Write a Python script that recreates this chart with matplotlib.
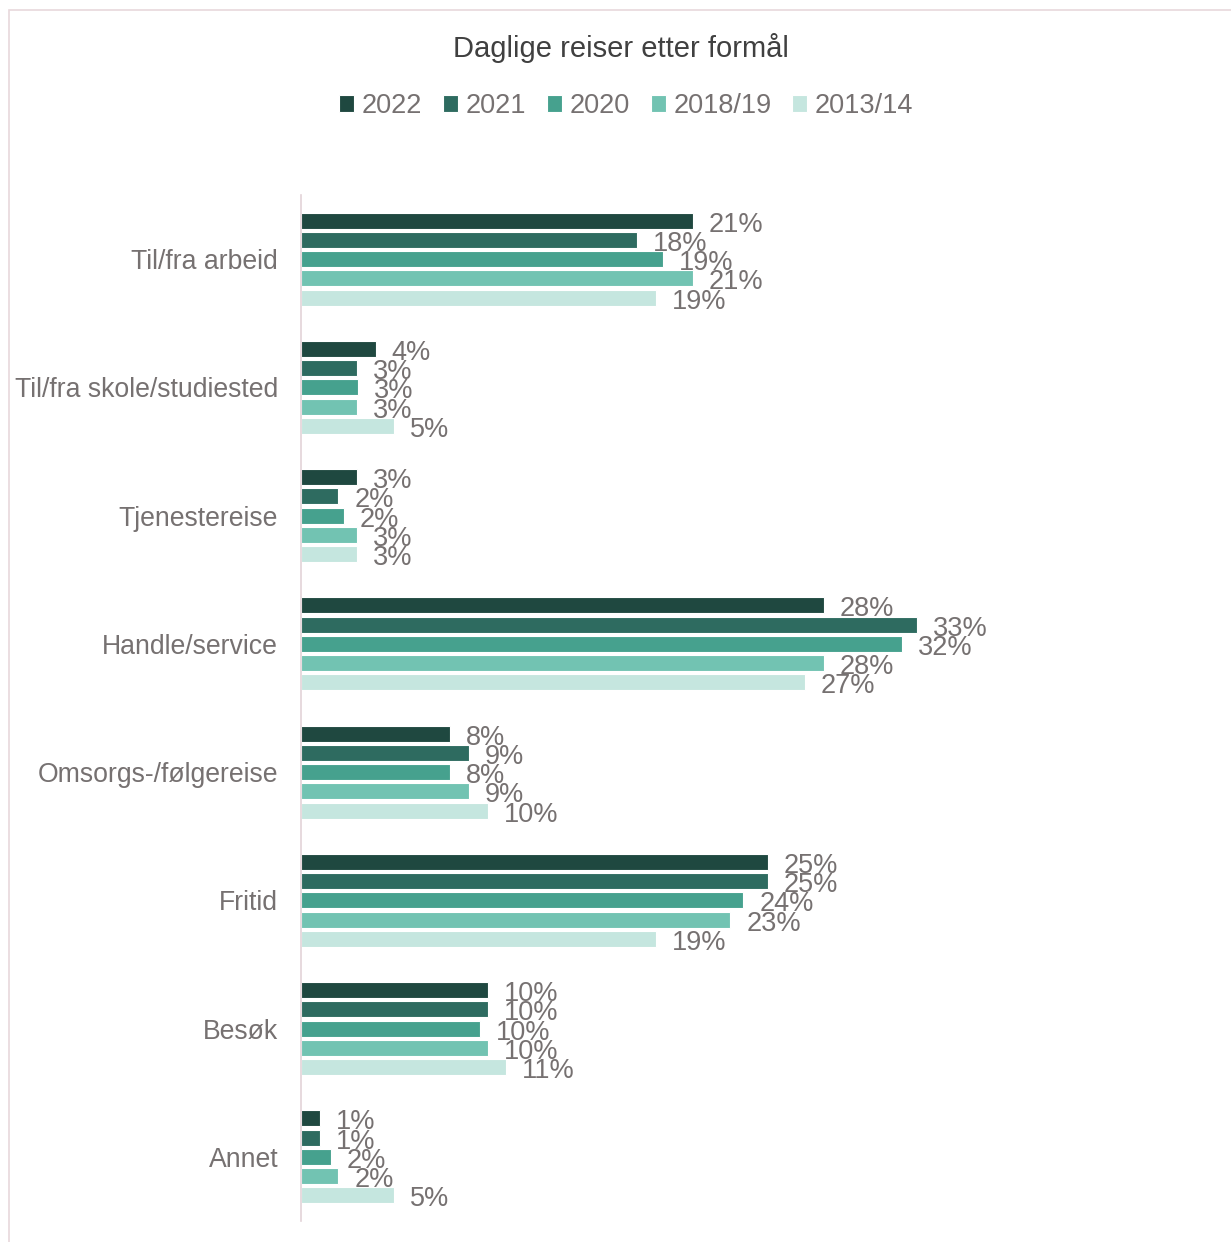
import numpy as np
import matplotlib.pyplot as plt
from matplotlib.patches import Rectangle

plt.rcParams['font.family'] = ['Liberation Sans', 'DejaVu Sans']

categories = ["Til/fra arbeid", "Til/fra skole/studiested", "Tjenestereise",
              "Handle/service", "Omsorgs-/følgereise", "Fritid", "Besøk", "Annet"]
years = ["2022", "2021", "2020", "2018/19", "2013/14"]
values = {
    "2022":    [21.0, 4.0, 3.0, 28.0, 8.0, 25.0, 10.0, 1.0],
    "2021":    [18.0, 3.0, 2.0, 33.0, 9.0, 25.0, 10.0, 1.0],
    "2020":    [19.4, 3.05, 2.3, 32.2, 8.0, 23.7, 9.6, 1.6],
    "2018/19": [21.0, 3.0, 3.0, 28.0, 9.0, 23.0, 10.0, 2.0],
    "2013/14": [19.0, 5.0, 3.0, 27.0, 10.0, 19.0, 11.0, 5.0],
}
colors = ["#1F4840", "#2E6B60", "#46A18E", "#72C3B2", "#C5E6DF"]
text_color = "#767171"

W, H = 1231, 1242
fig = plt.figure(figsize=(W / 100, H / 100), dpi=100)

# thin chart border (left and top visible)
fig.patches.append(Rectangle((9 / W, -0.01), 1.1, (H - 10) / H + 0.01,
                             transform=fig.transFigure, fill=False,
                             edgecolor="#E8D8DC", linewidth=1.2))

ax = fig.add_axes([301 / W, (H - 1221) / H, (1200 - 301) / W, (1221 - 195) / H])

y = np.arange(len(categories))
slot = 0.15
for i, yr in enumerate(years):
    off = (i - 2) * slot
    bars = ax.barh(y + off, values[yr], height=0.125, color=colors[i],
                   edgecolor="white", linewidth=0.8, label=yr)
    for b, v in zip(bars, values[yr]):
        ax.annotate(f"{v:.0f}%", (b.get_width(), b.get_y() + b.get_height() / 2),
                    xytext=(16, -1), textcoords="offset pixels",
                    ha="left", va="center_baseline", fontsize=19.5, color=text_color)

ax.set_ylim(len(categories) - 0.5, -0.5)
ax.set_xlim(0, (1200 - 301) / 18.67)
ax.set_yticks(y)
ax.set_yticklabels(categories, fontsize=19.2, color=text_color)
ax.tick_params(axis="y", length=0, pad=16.5)
ax.set_xticks([])
for s in ["top", "right", "bottom"]:
    ax.spines[s].set_visible(False)
ax.spines["left"].set_color("#E3D3D8")
ax.spines["left"].set_linewidth(1.2)

fig.text(621 / W, 1 - 48 / H, "Daglige reiser etter formål", ha="center", va="center",
         fontsize=21, color="#404040")
fig.legend(loc="center", bbox_to_anchor=(626 / W, 1 - 106 / H), ncol=5, frameon=False,
           fontsize=19.5, labelcolor=text_color, handlelength=0.55, handleheight=0.55,
           handletextpad=0.28, columnspacing=0.78)

fig.savefig("out.png", dpi=100)
